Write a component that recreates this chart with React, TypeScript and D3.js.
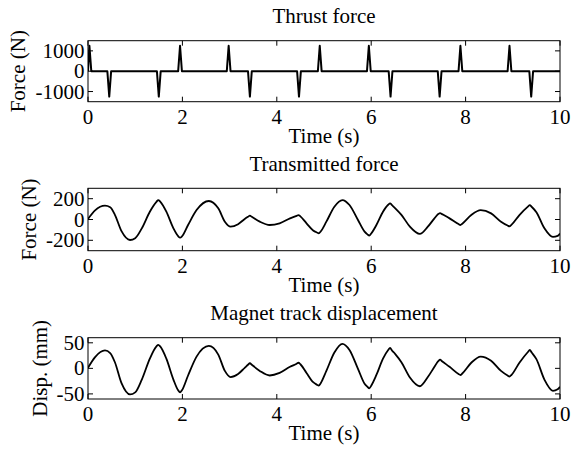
import React from 'react';
import * as d3 from 'd3';

// ---------- data ----------
const timeTicks = [0, 2, 4, 6, 8, 10];
const thrustTicks = [-1000, 0, 1000];
const forceTicks = [-200, 0, 200];
const dispTicks = [-50, 0, 50];

// thrust pulses (s, N)
const thrustTimes = [0.03, 0.45, 1.5, 1.95, 2.98, 3.43, 4.47, 4.91, 5.95, 6.41, 7.45, 7.89, 8.93, 9.39];
const thrustPeaks = [1250, -1250, -1250, 1250, 1250, -1250, -1250, 1250, 1250, -1250, -1250, 1250, 1250, -1250];

const sampleTimes = [
  0, 0.15, 0.36, 0.47, 0.57, 0.71, 0.89, 1.0, 1.14, 1.31,
  1.45, 1.49, 1.53, 1.66, 1.81, 1.91, 1.95, 1.99, 2.12, 2.3,
  2.56, 2.76, 2.9, 3.02, 3.18, 3.32, 3.39, 3.43, 3.47, 3.64,
  3.85, 4.06, 4.28, 4.42, 4.46, 4.5, 4.63, 4.77, 4.85, 4.89,
  4.93, 5.05, 5.22, 5.39, 5.54, 5.72, 5.86, 5.92, 5.96, 6.0,
  6.11, 6.25, 6.36, 6.4, 6.44, 6.51, 6.64, 6.82, 7.03, 7.2,
  7.34, 7.42, 7.46, 7.5, 7.66, 7.85, 7.89, 7.93, 8.12, 8.32,
  8.54, 8.75, 8.89, 8.93, 8.97, 9.14, 9.32, 9.36, 9.4, 9.5,
  9.67, 9.85, 9.95, 10.0,
];

const transmittedForce = [
  5, 88, 133, 118, 45, -112, -197, -180, -85, 75,
  170, 187, 172, 75, -85, -160, -175, -163, -53, 91,
  178, 107, -21, -69, -45, 5, 26, 37, 26, -21,
  -53, -37, 11, 35, 43, 30, -37, -105, -125, -133,
  -115, -21, 123, 187, 139, -5, -117, -143, -155, -135,
  -53, 75, 142, 155, 138, 108, 45, -69, -139, -69,
  11, 52, 62, 52, 11, -44, -53, -40, 43, 90,
  59, -21, -58, -66, -52, 43, 124, 139, 122, 70,
  -85, -168, -158, -135,
];

const magnetDisp = [
  1, 22, 35, 30, 12, -29, -51, -47, -22, 19,
  43, 46, 43, 19, -22, -43, -47, -43, -14, 23,
  44, 27, -5, -17, -11, 1, 7, 10, 7, -5,
  -14, -9, 3, 9, 11, 8, -9, -27, -32, -34,
  -29, -5, 31, 48, 36, -1, -30, -36, -39, -34,
  -13, 19, 36, 40, 35, 28, 12, -18, -35, -17,
  3, 14, 17, 14, 3, -11, -13, -10, 11, 23,
  15, -5, -14, -16, -13, 11, 32, 36, 31, 18,
  -22, -44, -41, -36,
];

// ---------- layout ----------
const W = 571;
const H = 449;
const X0 = 88;
const X1 = 560;
const FONT = '"Liberation Serif", "Times New Roman", Times, serif';
const FS = 21;
const TICK = 5;

const xScale = d3.scaleLinear().domain([0, 10]).range([X0, X1]);

function buildThrust(): [number, number][] {
  const pts: [number, number][] = [[0, 0]];
  const hw = 0.04;
  thrustTimes.forEach((t, i) => {
    pts.push([Math.max(0, t - hw), 0]);
    pts.push([t, thrustPeaks[i]]);
    pts.push([t + hw, 0]);
  });
  pts.push([10, 0]);
  return pts;
}

type PanelProps = {
  id: string;
  title: string;
  ylabel: string;
  ylabelX: number;
  top: number;
  bottom: number;
  domain: [number, number];
  ticks: number[];
  data: [number, number][];
  smooth: boolean;
};

function Panel(p: PanelProps) {
  const y = d3.scaleLinear().domain(p.domain).range([p.bottom, p.top]);
  const line = d3
    .line<[number, number]>()
    .x((d) => xScale(d[0]))
    .y((d) => y(d[1]))
    .curve(p.smooth ? d3.curveMonotoneX : d3.curveLinear);
  const cy = (p.top + p.bottom) / 2;
  const cx = (X0 + X1) / 2;
  return (
    <g>
      <defs>
        <clipPath id={p.id}>
          <rect x={X0} y={p.top} width={X1 - X0} height={p.bottom - p.top} />
        </clipPath>
      </defs>
      <rect x={X0} y={p.top} width={X1 - X0} height={p.bottom - p.top} fill="#fff" />
      <path
        d={line(p.data) || ''}
        fill="none"
        stroke="#000"
        strokeWidth={p.smooth ? 1.8 : 2}
        strokeLinejoin="round"
        clipPath={`url(#${p.id})`}
      />
      <rect x={X0} y={p.top} width={X1 - X0} height={p.bottom - p.top} fill="none" stroke="#000" strokeWidth={1} />
      {timeTicks.map((t) => (
        <g key={'x' + t}>
          <line x1={xScale(t)} x2={xScale(t)} y1={p.bottom} y2={p.bottom - TICK} stroke="#000" />
          <line x1={xScale(t)} x2={xScale(t)} y1={p.top} y2={p.top + TICK} stroke="#000" />
          <text x={xScale(t)} y={p.bottom + 22} textAnchor="middle" fontFamily={FONT} fontSize={FS}>
            {t}
          </text>
        </g>
      ))}
      {p.ticks.map((v) => (
        <g key={'y' + v}>
          <line x1={X0} x2={X0 + TICK} y1={y(v)} y2={y(v)} stroke="#000" />
          <line x1={X1} x2={X1 - TICK} y1={y(v)} y2={y(v)} stroke="#000" />
          <text x={X0 - 3.5} y={y(v) + 7} textAnchor="end" fontFamily={FONT} fontSize={FS}>
            {v}
          </text>
        </g>
      ))}
      <text x={cx} y={p.top - 17.5} textAnchor="middle" fontFamily={FONT} fontSize={FS}>
        {p.title}
      </text>
      <text x={cx} y={p.bottom + 41} textAnchor="middle" fontFamily={FONT} fontSize={FS}>
        Time (s)
      </text>
      <text
        transform={`translate(${p.ylabelX},${cy}) rotate(-90)`}
        textAnchor="middle"
        fontFamily={FONT}
        fontSize={FS}
      >
        {p.ylabel}
      </text>
    </g>
  );
}

export default function App() {
  const forceData: [number, number][] = sampleTimes.map((t, i) => [t, transmittedForce[i]]);
  const dispData: [number, number][] = sampleTimes.map((t, i) => [t, magnetDisp[i]]);
  return (
    <svg
      width={W}
      height={H}
      viewBox={`0 0 ${W} ${H}`}
      style={{ position: 'absolute', left: 0, top: 0, background: '#fff' }}
    >
      <rect x={0} y={0} width={W} height={H} fill="#fff" />
      <Panel
        id="c1"
        title="Thrust force"
        ylabel="Force (N)"
        ylabelX={24.5}
        top={40.7}
        bottom={101.7}
        domain={[-1500, 1500]}
        ticks={thrustTicks}
        data={buildThrust()}
        smooth={false}
      />
      <Panel
        id="c2"
        title="Transmitted force"
        ylabel="Force (N)"
        ylabelX={36}
        top={188.3}
        bottom={250.7}
        domain={[-300, 300]}
        ticks={forceTicks}
        data={forceData}
        smooth={true}
      />
      <Panel
        id="c3"
        title="Magnet track displacement"
        ylabel="Disp. (mm)"
        ylabelX={46.5}
        top={337.7}
        bottom={399}
        domain={[-60, 60]}
        ticks={dispTicks}
        data={dispData}
        smooth={true}
      />
    </svg>
  );
}
